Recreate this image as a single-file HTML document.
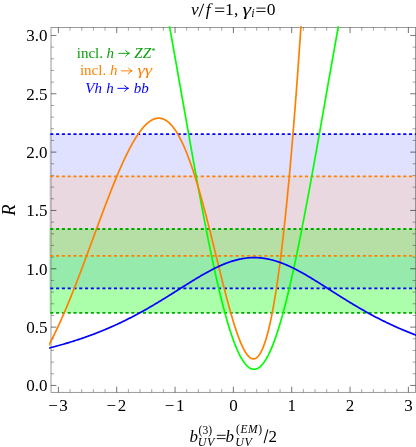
<!DOCTYPE html>
<html><head><meta charset="utf-8"><title>plot</title>
<style>
html,body{margin:0;padding:0;background:#fff;}
body{width:416px;height:447px;overflow:hidden;}
svg{display:block;will-change:transform;}
text{font-family:"Liberation Serif",serif;}
</style></head><body>
<svg width="416" height="447" viewBox="0 0 416 447">
<rect width="416" height="447" fill="#fff"/>
<clipPath id="c"><rect x="49.1" y="26.2" width="367.5" height="367"/></clipPath>
<g clip-path="url(#c)">
<rect x="49.4" y="134.2" width="367" height="154.10" fill="#0000ff" fill-opacity="0.12"/>
<rect x="49.4" y="229.0" width="367" height="83.80" fill="#00ff00" fill-opacity="0.33"/>
<rect x="49.4" y="176.3" width="367" height="79.50" fill="#ffc896" fill-opacity="0.3"/>
</g>
<rect x="51.0" y="27.45" width="364.60" height="364.90" fill="none" stroke="#808080" stroke-width="0.8"/>
<path d="M58.40,392.35v-5.6M58.40,27.45v5.6M116.73,392.35v-5.6M116.73,27.45v5.6M175.06,392.35v-5.6M175.06,27.45v5.6M233.39,392.35v-5.6M233.39,27.45v5.6M291.72,392.35v-5.6M291.72,27.45v5.6M350.05,392.35v-5.6M350.05,27.45v5.6M408.38,392.35v-5.6M408.38,27.45v5.6M51.00,385.45h5.4M415.60,385.45h-5.4M51.00,327.12h5.4M415.60,327.12h-5.4M51.00,268.78h5.4M415.60,268.78h-5.4M51.00,210.44h5.4M415.60,210.44h-5.4M51.00,152.11h5.4M415.60,152.11h-5.4M51.00,93.77h5.4M415.60,93.77h-5.4M51.00,35.44h5.4M415.60,35.44h-5.4" stroke="#000" stroke-width="0.55" fill="none"/>
<path d="M70.07,392.35v-3.3M70.07,27.45v3.3M81.73,392.35v-3.3M81.73,27.45v3.3M93.40,392.35v-3.3M93.40,27.45v3.3M105.06,392.35v-3.3M105.06,27.45v3.3M128.40,392.35v-3.3M128.40,27.45v3.3M140.06,392.35v-3.3M140.06,27.45v3.3M151.73,392.35v-3.3M151.73,27.45v3.3M163.39,392.35v-3.3M163.39,27.45v3.3M186.73,392.35v-3.3M186.73,27.45v3.3M198.39,392.35v-3.3M198.39,27.45v3.3M210.06,392.35v-3.3M210.06,27.45v3.3M221.72,392.35v-3.3M221.72,27.45v3.3M245.06,392.35v-3.3M245.06,27.45v3.3M256.72,392.35v-3.3M256.72,27.45v3.3M268.39,392.35v-3.3M268.39,27.45v3.3M280.05,392.35v-3.3M280.05,27.45v3.3M303.39,392.35v-3.3M303.39,27.45v3.3M315.05,392.35v-3.3M315.05,27.45v3.3M326.72,392.35v-3.3M326.72,27.45v3.3M338.38,392.35v-3.3M338.38,27.45v3.3M361.72,392.35v-3.3M361.72,27.45v3.3M373.38,392.35v-3.3M373.38,27.45v3.3M385.05,392.35v-3.3M385.05,27.45v3.3M396.71,392.35v-3.3M396.71,27.45v3.3M51.00,373.78h3.1M415.60,373.78h-3.1M51.00,362.12h3.1M415.60,362.12h-3.1M51.00,350.45h3.1M415.60,350.45h-3.1M51.00,338.78h3.1M415.60,338.78h-3.1M51.00,315.45h3.1M415.60,315.45h-3.1M51.00,303.78h3.1M415.60,303.78h-3.1M51.00,292.11h3.1M415.60,292.11h-3.1M51.00,280.45h3.1M415.60,280.45h-3.1M51.00,257.11h3.1M415.60,257.11h-3.1M51.00,245.45h3.1M415.60,245.45h-3.1M51.00,233.78h3.1M415.60,233.78h-3.1M51.00,222.11h3.1M415.60,222.11h-3.1M51.00,198.78h3.1M415.60,198.78h-3.1M51.00,187.11h3.1M415.60,187.11h-3.1M51.00,175.44h3.1M415.60,175.44h-3.1M51.00,163.78h3.1M415.60,163.78h-3.1M51.00,140.44h3.1M415.60,140.44h-3.1M51.00,128.78h3.1M415.60,128.78h-3.1M51.00,117.11h3.1M415.60,117.11h-3.1M51.00,105.44h3.1M415.60,105.44h-3.1M51.00,82.11h3.1M415.60,82.11h-3.1M51.00,70.44h3.1M415.60,70.44h-3.1M51.00,58.77h3.1M415.60,58.77h-3.1M51.00,47.11h3.1M415.60,47.11h-3.1" stroke="#000" stroke-width="0.35" fill="none"/>
<g fill="none" stroke-width="1.8" stroke-dasharray="3.1 2.686" clip-path="url(#c)">
<path d="M50.3,134.2H417M50.3,288.3H417" stroke="#0000ff"/>
<path d="M50.3,176.3H417M50.3,255.8H417" stroke="#ff8000"/>
<path d="M50.3,229.0H417M50.3,312.8H417" stroke="#00aa00"/>
</g>
<g fill="none" stroke-width="1.7" stroke-linejoin="round" clip-path="url(#c)">
<path d="M162.52,-11.97 L162.83,-10.31 L163.14,-8.65 L163.44,-6.98 L163.75,-5.31 L164.06,-3.64 L164.37,-1.96 L164.67,-0.29 L164.98,1.39 L165.29,3.07 L165.60,4.75 L165.90,6.44 L166.21,8.12 L166.52,9.81 L166.83,11.50 L167.13,13.19 L167.44,14.88 L167.75,16.58 L168.06,18.28 L168.36,19.98 L168.67,21.68 L168.98,23.38 L169.28,25.08 L169.59,26.79 L169.90,28.50 L170.21,30.21 L170.51,31.92 L170.82,33.63 L171.13,35.34 L171.44,37.06 L171.74,38.77 L172.05,40.49 L172.36,42.21 L172.67,43.93 L172.97,45.65 L173.28,47.38 L173.59,49.10 L173.89,50.83 L174.20,52.55 L174.51,54.28 L174.82,56.01 L175.12,57.74 L175.43,59.47 L175.74,61.20 L176.05,62.93 L176.35,64.67 L176.66,66.40 L176.97,68.14 L177.28,69.87 L177.58,71.61 L177.89,73.35 L178.20,75.09 L178.50,76.82 L178.81,78.56 L179.12,80.30 L179.43,82.04 L179.73,83.78 L180.04,85.52 L180.35,87.27 L180.66,89.01 L180.96,90.75 L181.27,92.49 L181.58,94.23 L181.89,95.98 L182.19,97.72 L182.50,99.46 L182.81,101.20 L183.11,102.94 L183.42,104.69 L183.73,106.43 L184.04,108.17 L184.34,109.91 L184.65,111.65 L184.96,113.39 L185.27,115.13 L185.57,116.87 L185.88,118.61 L186.19,120.35 L186.50,122.09 L186.80,123.82 L187.11,125.56 L187.42,127.30 L187.72,129.03 L188.03,130.77 L188.34,132.50 L188.65,134.23 L188.95,135.96 L189.26,137.69 L189.57,139.42 L189.88,141.15 L190.18,142.87 L190.49,144.60 L190.80,146.32 L191.11,148.04 L191.41,149.76 L191.72,151.48 L192.03,153.19 L192.33,154.91 L192.64,156.62 L192.95,158.33 L193.26,160.04 L193.56,161.75 L193.87,163.46 L194.18,165.16 L194.49,166.86 L194.79,168.56 L195.10,170.26 L195.41,171.95 L195.72,173.64 L196.02,175.33 L196.33,177.02 L196.64,178.70 L196.94,180.38 L197.25,182.06 L197.56,183.74 L197.87,185.41 L198.17,187.08 L198.48,188.75 L198.79,190.41 L199.10,192.07 L199.40,193.73 L199.71,195.38 L200.02,197.03 L200.33,198.68 L200.63,200.33 L200.94,201.97 L201.25,203.60 L201.56,205.24 L201.86,206.87 L202.17,208.49 L202.48,210.11 L202.78,211.73 L203.09,213.34 L203.40,214.95 L203.71,216.56 L204.01,218.16 L204.32,219.76 L204.63,221.35 L204.94,222.94 L205.24,224.52 L205.55,226.10 L205.86,227.67 L206.17,229.24 L206.47,230.80 L206.78,232.36 L207.09,233.92 L207.39,235.47 L207.70,237.01 L208.01,238.55 L208.32,240.08 L208.62,241.61 L208.93,243.13 L209.24,244.65 L209.55,246.16 L209.85,247.67 L210.16,249.17 L210.47,250.66 L210.78,252.15 L211.08,253.63 L211.39,255.11 L211.70,256.57 L212.00,258.04 L212.31,259.50 L212.62,260.95 L212.93,262.39 L213.23,263.83 L213.54,265.26 L213.85,266.69 L214.16,268.10 L214.46,269.51 L214.77,270.92 L215.08,272.32 L215.39,273.71 L215.69,275.09 L216.00,276.46 L216.31,277.83 L216.61,279.19 L216.92,280.55 L217.23,281.89 L217.54,283.23 L217.84,284.56 L218.15,285.89 L218.46,287.20 L218.77,288.51 L219.07,289.81 L219.38,291.10 L219.69,292.38 L220.00,293.66 L220.30,294.92 L220.61,296.18 L220.92,297.43 L221.22,298.67 L221.53,299.91 L221.84,301.13 L222.15,302.35 L222.45,303.55 L222.76,304.75 L223.07,305.94 L223.38,307.12 L223.68,308.29 L223.99,309.45 L224.30,310.60 L224.61,311.75 L224.91,312.88 L225.22,314.01 L225.53,315.12 L225.83,316.23 L226.14,317.32 L226.45,318.41 L226.76,319.48 L227.06,320.55 L227.37,321.61 L227.68,322.65 L227.99,323.69 L228.29,324.71 L228.60,325.73 L228.91,326.74 L229.22,327.73 L229.52,328.72 L229.83,329.69 L230.14,330.65 L230.44,331.61 L230.75,332.55 L231.06,333.48 L231.37,334.40 L231.67,335.31 L231.98,336.21 L232.29,337.10 L232.60,337.98 L232.90,338.85 L233.21,339.70 L233.52,340.55 L233.83,341.38 L234.13,342.20 L234.44,343.01 L234.75,343.81 L235.06,344.60 L235.36,345.37 L235.67,346.14 L235.98,346.89 L236.28,347.63 L236.59,348.36 L236.90,349.08 L237.21,349.78 L237.51,350.48 L237.82,351.16 L238.13,351.83 L238.44,352.49 L238.74,353.13 L239.05,353.77 L239.36,354.39 L239.67,355.00 L239.97,355.60 L240.28,356.18 L240.59,356.75 L240.89,357.31 L241.20,357.86 L241.51,358.40 L241.82,358.92 L242.12,359.43 L242.43,359.93 L242.74,360.41 L243.05,360.89 L243.35,361.35 L243.66,361.79 L243.97,362.23 L244.28,362.65 L244.58,363.06 L244.89,363.46 L245.20,363.84 L245.50,364.21 L245.81,364.57 L246.12,364.91 L246.43,365.24 L246.73,365.56 L247.04,365.87 L247.35,366.16 L247.66,366.44 L247.96,366.71 L248.27,366.96 L248.58,367.20 L248.89,367.43 L249.19,367.64 L249.50,367.84 L249.81,368.03 L250.11,368.20 L250.42,368.37 L250.73,368.51 L251.04,368.65 L251.34,368.77 L251.65,368.88 L251.96,368.97 L252.27,369.06 L252.57,369.12 L252.88,369.18 L253.19,369.22 L253.50,369.25 L253.80,369.27 L254.11,369.27 L254.42,369.26 L254.72,369.23 L255.03,369.20 L255.34,369.14 L255.65,369.08 L255.95,369.00 L256.26,368.91 L256.57,368.81 L256.88,368.69 L257.18,368.56 L257.49,368.42 L257.80,368.26 L258.11,368.09 L258.41,367.91 L258.72,367.71 L259.03,367.50 L259.33,367.28 L259.64,367.04 L259.95,366.79 L260.26,366.53 L260.56,366.26 L260.87,365.97 L261.18,365.67 L261.49,365.35 L261.79,365.03 L262.10,364.69 L262.41,364.33 L262.72,363.97 L263.02,363.59 L263.33,363.20 L263.64,362.79 L263.94,362.37 L264.25,361.94 L264.56,361.50 L264.87,361.04 L265.17,360.58 L265.48,360.10 L265.79,359.60 L266.10,359.09 L266.40,358.58 L266.71,358.04 L267.02,357.50 L267.33,356.94 L267.63,356.38 L267.94,355.79 L268.25,355.20 L268.56,354.60 L268.86,353.98 L269.17,353.35 L269.48,352.70 L269.78,352.05 L270.09,351.38 L270.40,350.71 L270.71,350.01 L271.01,349.31 L271.32,348.60 L271.63,347.87 L271.94,347.13 L272.24,346.38 L272.55,345.62 L272.86,344.85 L273.17,344.07 L273.47,343.27 L273.78,342.46 L274.09,341.64 L274.39,340.81 L274.70,339.97 L275.01,339.12 L275.32,338.26 L275.62,337.38 L275.93,336.49 L276.24,335.60 L276.55,334.69 L276.85,333.77 L277.16,332.84 L277.47,331.90 L277.78,330.95 L278.08,329.99 L278.39,329.02 L278.70,328.03 L279.00,327.04 L279.31,326.04 L279.62,325.02 L279.93,324.00 L280.23,322.96 L280.54,321.92 L280.85,320.86 L281.16,319.80 L281.46,318.73 L281.77,317.64 L282.08,316.55 L282.39,315.44 L282.69,314.33 L283.00,313.21 L283.31,312.07 L283.61,310.93 L283.92,309.78 L284.23,308.62 L284.54,307.45 L284.84,306.27 L285.15,305.08 L285.46,303.89 L285.77,302.68 L286.07,301.47 L286.38,300.24 L286.69,299.01 L287.00,297.77 L287.30,296.52 L287.61,295.26 L287.92,293.99 L288.22,292.72 L288.53,291.44 L288.84,290.15 L289.15,288.85 L289.45,287.54 L289.76,286.22 L290.07,284.90 L290.38,283.57 L290.68,282.23 L290.99,280.88 L291.30,279.53 L291.61,278.17 L291.91,276.80 L292.22,275.42 L292.53,274.04 L292.83,272.65 L293.14,271.25 L293.45,269.85 L293.76,268.43 L294.06,267.02 L294.37,265.59 L294.68,264.16 L294.99,262.72 L295.29,261.27 L295.60,259.82 L295.91,258.36 L296.22,256.90 L296.52,255.43 L296.83,253.95 L297.14,252.46 L297.44,250.98 L297.75,249.48 L298.06,247.98 L298.37,246.47 L298.67,244.96 L298.98,243.44 L299.29,241.91 L299.60,240.38 L299.90,238.85 L300.21,237.31 L300.52,235.76 L300.83,234.21 L301.13,232.65 L301.44,231.09 L301.75,229.53 L302.06,227.96 L302.36,226.38 L302.67,224.80 L302.98,223.21 L303.28,221.62 L303.59,220.03 L303.90,218.43 L304.21,216.82 L304.51,215.22 L304.82,213.60 L305.13,211.99 L305.44,210.37 L305.74,208.74 L306.05,207.11 L306.36,205.48 L306.67,203.84 L306.97,202.20 L307.28,200.56 L307.59,198.91 L307.89,197.26 L308.20,195.61 L308.51,193.95 L308.82,192.29 L309.12,190.62 L309.43,188.96 L309.74,187.29 L310.05,185.61 L310.35,183.94 L310.66,182.26 L310.97,180.57 L311.28,178.89 L311.58,177.20 L311.89,175.51 L312.20,173.82 L312.50,172.12 L312.81,170.42 L313.12,168.72 L313.43,167.02 L313.73,165.31 L314.04,163.60 L314.35,161.89 L314.66,160.18 L314.96,158.47 L315.27,156.75 L315.58,155.04 L315.89,153.32 L316.19,151.59 L316.50,149.87 L316.81,148.15 L317.11,146.42 L317.42,144.69 L317.73,142.96 L318.04,141.23 L318.34,139.50 L318.65,137.77 L318.96,136.03 L319.27,134.30 L319.57,132.56 L319.88,130.82 L320.19,129.08 L320.50,127.34 L320.80,125.60 L321.11,123.86 L321.42,122.12 L321.72,120.38 L322.03,118.63 L322.34,116.89 L322.65,115.14 L322.95,113.40 L323.26,111.65 L323.57,109.91 L323.88,108.16 L324.18,106.41 L324.49,104.67 L324.80,102.92 L325.11,101.17 L325.41,99.42 L325.72,97.67 L326.03,95.93 L326.33,94.18 L326.64,92.43 L326.95,90.68 L327.26,88.94 L327.56,87.19 L327.87,85.44 L328.18,83.69 L328.49,81.95 L328.79,80.20 L329.10,78.46 L329.41,76.71 L329.72,74.97 L330.02,73.22 L330.33,71.48 L330.64,69.74 L330.94,68.00 L331.25,66.25 L331.56,64.51 L331.87,62.77 L332.17,61.04 L332.48,59.30 L332.79,57.56 L333.10,55.83 L333.40,54.09 L333.71,52.36 L334.02,50.62 L334.33,48.89 L334.63,47.16 L334.94,45.43 L335.25,43.70 L335.56,41.98 L335.86,40.25 L336.17,38.53 L336.48,36.81 L336.78,35.09 L337.09,33.37 L337.40,31.65 L337.71,29.93 L338.01,28.22 L338.32,26.50 L338.63,24.79 L338.94,23.08 L339.24,21.37 L339.55,19.66 L339.86,17.96 L340.17,16.26 L340.47,14.55 L340.78,12.85 L341.09,11.16 L341.39,9.46 L341.70,7.77 L342.01,6.07 L342.32,4.38 L342.62,2.70 L342.93,1.01 L343.24,-0.67 L343.55,-2.36 L343.85,-4.04 L344.16,-5.71 L344.47,-7.39 L344.78,-9.06 L345.08,-10.73 L345.39,-12.40" stroke="#00ff00"/>
<path d="M48.50,345.67 L48.81,345.10 L49.11,344.53 L49.42,343.96 L49.73,343.38 L50.04,342.80 L50.34,342.21 L50.65,341.63 L50.96,341.04 L51.27,340.44 L51.57,339.85 L51.88,339.25 L52.19,338.64 L52.50,338.04 L52.80,337.43 L53.11,336.82 L53.42,336.20 L53.72,335.58 L54.03,334.96 L54.34,334.34 L54.65,333.71 L54.95,333.08 L55.26,332.44 L55.57,331.81 L55.88,331.17 L56.18,330.53 L56.49,329.88 L56.80,329.23 L57.11,328.58 L57.41,327.93 L57.72,327.27 L58.03,326.61 L58.33,325.95 L58.64,325.28 L58.95,324.61 L59.26,323.94 L59.56,323.27 L59.87,322.59 L60.18,321.91 L60.49,321.23 L60.79,320.55 L61.10,319.86 L61.41,319.17 L61.72,318.48 L62.02,317.78 L62.33,317.09 L62.64,316.39 L62.94,315.69 L63.25,314.98 L63.56,314.27 L63.87,313.56 L64.17,312.85 L64.48,312.14 L64.79,311.42 L65.10,310.70 L65.40,309.98 L65.71,309.25 L66.02,308.53 L66.33,307.80 L66.63,307.07 L66.94,306.34 L67.25,305.60 L67.56,304.86 L67.86,304.12 L68.17,303.38 L68.48,302.64 L68.78,301.89 L69.09,301.14 L69.40,300.39 L69.71,299.64 L70.01,298.89 L70.32,298.13 L70.63,297.37 L70.94,296.61 L71.24,295.85 L71.55,295.09 L71.86,294.32 L72.17,293.55 L72.47,292.78 L72.78,292.01 L73.09,291.24 L73.39,290.46 L73.70,289.69 L74.01,288.91 L74.32,288.13 L74.62,287.35 L74.93,286.56 L75.24,285.78 L75.55,284.99 L75.85,284.20 L76.16,283.41 L76.47,282.62 L76.78,281.83 L77.08,281.03 L77.39,280.24 L77.70,279.44 L78.00,278.64 L78.31,277.84 L78.62,277.04 L78.93,276.24 L79.23,275.44 L79.54,274.63 L79.85,273.82 L80.16,273.02 L80.46,272.21 L80.77,271.40 L81.08,270.59 L81.39,269.77 L81.69,268.96 L82.00,268.15 L82.31,267.33 L82.61,266.51 L82.92,265.70 L83.23,264.88 L83.54,264.06 L83.84,263.24 L84.15,262.42 L84.46,261.59 L84.77,260.77 L85.07,259.95 L85.38,259.12 L85.69,258.30 L86.00,257.47 L86.30,256.65 L86.61,255.82 L86.92,254.99 L87.22,254.16 L87.53,253.33 L87.84,252.50 L88.15,251.67 L88.45,250.84 L88.76,250.01 L89.07,249.18 L89.38,248.35 L89.68,247.52 L89.99,246.69 L90.30,245.85 L90.61,245.02 L90.91,244.19 L91.22,243.35 L91.53,242.52 L91.83,241.69 L92.14,240.85 L92.45,240.02 L92.76,239.18 L93.06,238.35 L93.37,237.52 L93.68,236.68 L93.99,235.85 L94.29,235.01 L94.60,234.18 L94.91,233.35 L95.22,232.51 L95.52,231.68 L95.83,230.85 L96.14,230.01 L96.44,229.18 L96.75,228.35 L97.06,227.52 L97.37,226.69 L97.67,225.85 L97.98,225.02 L98.29,224.19 L98.60,223.36 L98.90,222.54 L99.21,221.71 L99.52,220.88 L99.83,220.05 L100.13,219.23 L100.44,218.40 L100.75,217.58 L101.06,216.75 L101.36,215.93 L101.67,215.11 L101.98,214.29 L102.28,213.47 L102.59,212.65 L102.90,211.83 L103.21,211.01 L103.51,210.19 L103.82,209.38 L104.13,208.57 L104.44,207.75 L104.74,206.94 L105.05,206.13 L105.36,205.32 L105.67,204.51 L105.97,203.71 L106.28,202.90 L106.59,202.10 L106.89,201.30 L107.20,200.49 L107.51,199.70 L107.82,198.90 L108.12,198.10 L108.43,197.31 L108.74,196.51 L109.05,195.72 L109.35,194.93 L109.66,194.15 L109.97,193.36 L110.28,192.58 L110.58,191.80 L110.89,191.02 L111.20,190.24 L111.50,189.46 L111.81,188.69 L112.12,187.92 L112.43,187.15 L112.73,186.38 L113.04,185.61 L113.35,184.85 L113.66,184.09 L113.96,183.33 L114.27,182.57 L114.58,181.82 L114.89,181.07 L115.19,180.32 L115.50,179.57 L115.81,178.83 L116.11,178.09 L116.42,177.35 L116.73,176.61 L117.04,175.88 L117.34,175.15 L117.65,174.42 L117.96,173.69 L118.27,172.97 L118.57,172.25 L118.88,171.53 L119.19,170.82 L119.50,170.11 L119.80,169.40 L120.11,168.70 L120.42,168.00 L120.72,167.30 L121.03,166.60 L121.34,165.91 L121.65,165.22 L121.95,164.54 L122.26,163.86 L122.57,163.18 L122.88,162.50 L123.18,161.83 L123.49,161.16 L123.80,160.50 L124.11,159.84 L124.41,159.18 L124.72,158.52 L125.03,157.87 L125.33,157.23 L125.64,156.59 L125.95,155.95 L126.26,155.31 L126.56,154.68 L126.87,154.05 L127.18,153.43 L127.49,152.81 L127.79,152.20 L128.10,151.59 L128.41,150.98 L128.72,150.38 L129.02,149.78 L129.33,149.19 L129.64,148.60 L129.94,148.01 L130.25,147.43 L130.56,146.85 L130.87,146.28 L131.17,145.71 L131.48,145.15 L131.79,144.59 L132.10,144.04 L132.40,143.49 L132.71,142.95 L133.02,142.41 L133.33,141.87 L133.63,141.34 L133.94,140.82 L134.25,140.30 L134.56,139.78 L134.86,139.27 L135.17,138.77 L135.48,138.27 L135.78,137.77 L136.09,137.29 L136.40,136.80 L136.71,136.32 L137.01,135.85 L137.32,135.38 L137.63,134.92 L137.94,134.46 L138.24,134.01 L138.55,133.56 L138.86,133.12 L139.17,132.68 L139.47,132.25 L139.78,131.83 L140.09,131.41 L140.39,131.00 L140.70,130.59 L141.01,130.19 L141.32,129.80 L141.62,129.41 L141.93,129.02 L142.24,128.64 L142.55,128.27 L142.85,127.91 L143.16,127.55 L143.47,127.20 L143.78,126.85 L144.08,126.51 L144.39,126.17 L144.70,125.84 L145.00,125.52 L145.31,125.21 L145.62,124.90 L145.93,124.59 L146.23,124.30 L146.54,124.01 L146.85,123.72 L147.16,123.45 L147.46,123.18 L147.77,122.91 L148.08,122.66 L148.39,122.41 L148.69,122.16 L149.00,121.93 L149.31,121.70 L149.61,121.48 L149.92,121.26 L150.23,121.05 L150.54,120.85 L150.84,120.66 L151.15,120.47 L151.46,120.29 L151.77,120.11 L152.07,119.95 L152.38,119.79 L152.69,119.64 L153.00,119.49 L153.30,119.35 L153.61,119.22 L153.92,119.10 L154.22,118.99 L154.53,118.88 L154.84,118.78 L155.15,118.68 L155.45,118.60 L155.76,118.52 L156.07,118.45 L156.38,118.39 L156.68,118.33 L156.99,118.29 L157.30,118.25 L157.61,118.22 L157.91,118.19 L158.22,118.17 L158.53,118.17 L158.83,118.17 L159.14,118.17 L159.45,118.19 L159.76,118.21 L160.06,118.24 L160.37,118.28 L160.68,118.33 L160.99,118.38 L161.29,118.45 L161.60,118.52 L161.91,118.60 L162.22,118.69 L162.52,118.78 L162.83,118.88 L163.14,119.00 L163.44,119.12 L163.75,119.25 L164.06,119.38 L164.37,119.53 L164.67,119.68 L164.98,119.84 L165.29,120.01 L165.60,120.19 L165.90,120.38 L166.21,120.57 L166.52,120.78 L166.83,120.99 L167.13,121.21 L167.44,121.44 L167.75,121.68 L168.06,121.92 L168.36,122.18 L168.67,122.44 L168.98,122.71 L169.28,122.99 L169.59,123.28 L169.90,123.58 L170.21,123.89 L170.51,124.20 L170.82,124.52 L171.13,124.86 L171.44,125.20 L171.74,125.55 L172.05,125.90 L172.36,126.27 L172.67,126.65 L172.97,127.03 L173.28,127.42 L173.59,127.82 L173.89,128.23 L174.20,128.65 L174.51,129.08 L174.82,129.52 L175.12,129.96 L175.43,130.42 L175.74,130.88 L176.05,131.35 L176.35,131.83 L176.66,132.32 L176.97,132.81 L177.28,133.32 L177.58,133.83 L177.89,134.36 L178.20,134.89 L178.50,135.43 L178.81,135.98 L179.12,136.54 L179.43,137.10 L179.73,137.68 L180.04,138.26 L180.35,138.85 L180.66,139.46 L180.96,140.07 L181.27,140.68 L181.58,141.31 L181.89,141.95 L182.19,142.59 L182.50,143.24 L182.81,143.90 L183.11,144.57 L183.42,145.25 L183.73,145.94 L184.04,146.63 L184.34,147.33 L184.65,148.04 L184.96,148.76 L185.27,149.49 L185.57,150.23 L185.88,150.97 L186.19,151.73 L186.50,152.49 L186.80,153.26 L187.11,154.03 L187.42,154.82 L187.72,155.61 L188.03,156.41 L188.34,157.22 L188.65,158.04 L188.95,158.87 L189.26,159.70 L189.57,160.54 L189.88,161.39 L190.18,162.25 L190.49,163.11 L190.80,163.99 L191.11,164.87 L191.41,165.75 L191.72,166.65 L192.03,167.55 L192.33,168.46 L192.64,169.38 L192.95,170.31 L193.26,171.24 L193.56,172.18 L193.87,173.12 L194.18,174.08 L194.49,175.04 L194.79,176.01 L195.10,176.98 L195.41,177.96 L195.72,178.95 L196.02,179.95 L196.33,180.95 L196.64,181.96 L196.94,182.98 L197.25,184.00 L197.56,185.03 L197.87,186.06 L198.17,187.11 L198.48,188.15 L198.79,189.21 L199.10,190.27 L199.40,191.33 L199.71,192.41 L200.02,193.48 L200.33,194.57 L200.63,195.66 L200.94,196.75 L201.25,197.86 L201.56,198.96 L201.86,200.07 L202.17,201.19 L202.48,202.31 L202.78,203.44 L203.09,204.57 L203.40,205.71 L203.71,206.86 L204.01,208.00 L204.32,209.16 L204.63,210.31 L204.94,211.47 L205.24,212.64 L205.55,213.81 L205.86,214.98 L206.17,216.16 L206.47,217.35 L206.78,218.53 L207.09,219.72 L207.39,220.92 L207.70,222.11 L208.01,223.32 L208.32,224.52 L208.62,225.73 L208.93,226.94 L209.24,228.15 L209.55,229.37 L209.85,230.59 L210.16,231.81 L210.47,233.04 L210.78,234.27 L211.08,235.50 L211.39,236.73 L211.70,237.96 L212.00,239.20 L212.31,240.44 L212.62,241.68 L212.93,242.92 L213.23,244.16 L213.54,245.41 L213.85,246.65 L214.16,247.90 L214.46,249.15 L214.77,250.40 L215.08,251.65 L215.39,252.90 L215.69,254.15 L216.00,255.40 L216.31,256.65 L216.61,257.90 L216.92,259.15 L217.23,260.40 L217.54,261.65 L217.84,262.90 L218.15,264.15 L218.46,265.40 L218.77,266.64 L219.07,267.89 L219.38,269.14 L219.69,270.38 L220.00,271.62 L220.30,272.86 L220.61,274.10 L220.92,275.33 L221.22,276.57 L221.53,277.80 L221.84,279.03 L222.15,280.25 L222.45,281.48 L222.76,282.70 L223.07,283.91 L223.38,285.13 L223.68,286.34 L223.99,287.54 L224.30,288.74 L224.61,289.94 L224.91,291.14 L225.22,292.33 L225.53,293.51 L225.83,294.69 L226.14,295.87 L226.45,297.04 L226.76,298.21 L227.06,299.37 L227.37,300.52 L227.68,301.67 L227.99,302.81 L228.29,303.95 L228.60,305.08 L228.91,306.21 L229.22,307.32 L229.52,308.43 L229.83,309.54 L230.14,310.64 L230.44,311.73 L230.75,312.81 L231.06,313.88 L231.37,314.95 L231.67,316.01 L231.98,317.06 L232.29,318.10 L232.60,319.13 L232.90,320.16 L233.21,321.17 L233.52,322.18 L233.83,323.18 L234.13,324.16 L234.44,325.14 L234.75,326.11 L235.06,327.07 L235.36,328.02 L235.67,328.95 L235.98,329.88 L236.28,330.79 L236.59,331.70 L236.90,332.59 L237.21,333.47 L237.51,334.34 L237.82,335.20 L238.13,336.05 L238.44,336.88 L238.74,337.71 L239.05,338.52 L239.36,339.31 L239.67,340.10 L239.97,340.87 L240.28,341.62 L240.59,342.37 L240.89,343.10 L241.20,343.81 L241.51,344.52 L241.82,345.20 L242.12,345.88 L242.43,346.54 L242.74,347.18 L243.05,347.81 L243.35,348.42 L243.66,349.02 L243.97,349.60 L244.28,350.17 L244.58,350.72 L244.89,351.25 L245.20,351.77 L245.50,352.27 L245.81,352.76 L246.12,353.23 L246.43,353.68 L246.73,354.11 L247.04,354.53 L247.35,354.92 L247.66,355.30 L247.96,355.67 L248.27,356.01 L248.58,356.34 L248.89,356.64 L249.19,356.93 L249.50,357.20 L249.81,357.45 L250.11,357.68 L250.42,357.89 L250.73,358.08 L251.04,358.25 L251.34,358.41 L251.65,358.54 L251.96,358.65 L252.27,358.74 L252.57,358.81 L252.88,358.86 L253.19,358.88 L253.50,358.89 L253.80,358.87 L254.11,358.84 L254.42,358.78 L254.72,358.70 L255.03,358.59 L255.34,358.47 L255.65,358.32 L255.95,358.15 L256.26,357.95 L256.57,357.74 L256.88,357.50 L257.18,357.23 L257.49,356.95 L257.80,356.64 L258.11,356.30 L258.41,355.94 L258.72,355.56 L259.03,355.16 L259.33,354.73 L259.64,354.27 L259.95,353.79 L260.26,353.28 L260.56,352.75 L260.87,352.20 L261.18,351.62 L261.49,351.01 L261.79,350.38 L262.10,349.72 L262.41,349.04 L262.72,348.33 L263.02,347.59 L263.33,346.83 L263.64,346.04 L263.94,345.23 L264.25,344.38 L264.56,343.52 L264.87,342.62 L265.17,341.70 L265.48,340.75 L265.79,339.77 L266.10,338.76 L266.40,337.73 L266.71,336.67 L267.02,335.58 L267.33,334.46 L267.63,333.32 L267.94,332.15 L268.25,330.94 L268.56,329.71 L268.86,328.46 L269.17,327.17 L269.48,325.85 L269.78,324.51 L270.09,323.13 L270.40,321.73 L270.71,320.30 L271.01,318.84 L271.32,317.34 L271.63,315.82 L271.94,314.27 L272.24,312.69 L272.55,311.08 L272.86,309.44 L273.17,307.77 L273.47,306.07 L273.78,304.34 L274.09,302.58 L274.39,300.79 L274.70,298.97 L275.01,297.12 L275.32,295.24 L275.62,293.33 L275.93,291.38 L276.24,289.41 L276.55,287.40 L276.85,285.37 L277.16,283.30 L277.47,281.20 L277.78,279.07 L278.08,276.91 L278.39,274.72 L278.70,272.50 L279.00,270.24 L279.31,267.96 L279.62,265.64 L279.93,263.29 L280.23,260.91 L280.54,258.50 L280.85,256.05 L281.16,253.58 L281.46,251.07 L281.77,248.53 L282.08,245.96 L282.39,243.36 L282.69,240.72 L283.00,238.05 L283.31,235.36 L283.61,232.62 L283.92,229.86 L284.23,227.07 L284.54,224.24 L284.84,221.38 L285.15,218.49 L285.46,215.56 L285.77,212.61 L286.07,209.62 L286.38,206.60 L286.69,203.55 L287.00,200.46 L287.30,197.34 L287.61,194.19 L287.92,191.01 L288.22,187.80 L288.53,184.55 L288.84,181.27 L289.15,177.96 L289.45,174.62 L289.76,171.24 L290.07,167.83 L290.38,164.39 L290.68,160.92 L290.99,157.41 L291.30,153.88 L291.61,150.31 L291.91,146.71 L292.22,143.07 L292.53,139.40 L292.83,135.70 L293.14,131.97 L293.45,128.21 L293.76,124.41 L294.06,120.59 L294.37,116.73 L294.68,112.83 L294.99,108.91 L295.29,104.95 L295.60,100.97 L295.91,96.95 L296.22,92.89 L296.52,88.81 L296.83,84.69 L297.14,80.55 L297.44,76.37 L297.75,72.15 L298.06,67.91 L298.37,63.63 L298.67,59.33 L298.98,54.99 L299.29,50.62 L299.60,46.22 L299.90,41.78 L300.21,37.32 L300.52,32.82 L300.83,28.30 L301.13,23.74 L301.44,19.15 L301.75,14.53 L302.06,9.87 L302.36,5.19 L302.67,0.48 L302.98,-4.27 L303.28,-9.05" stroke="#ff8000"/>
<path d="M48.50,348.22 L49.42,347.99 L50.35,347.75 L51.27,347.51 L52.19,347.27 L53.12,347.03 L54.04,346.79 L54.96,346.54 L55.89,346.29 L56.81,346.04 L57.74,345.79 L58.66,345.53 L59.58,345.27 L60.51,345.01 L61.43,344.75 L62.35,344.49 L63.28,344.22 L64.20,343.96 L65.12,343.68 L66.05,343.41 L66.97,343.14 L67.89,342.86 L68.82,342.58 L69.74,342.30 L70.67,342.01 L71.59,341.73 L72.51,341.44 L73.44,341.15 L74.36,340.85 L75.28,340.56 L76.21,340.26 L77.13,339.96 L78.05,339.65 L78.98,339.35 L79.90,339.04 L80.82,338.73 L81.75,338.41 L82.67,338.10 L83.60,337.78 L84.52,337.46 L85.44,337.13 L86.37,336.80 L87.29,336.47 L88.21,336.14 L89.14,335.81 L90.06,335.47 L90.98,335.13 L91.91,334.78 L92.83,334.44 L93.75,334.09 L94.68,333.74 L95.60,333.38 L96.53,333.03 L97.45,332.66 L98.37,332.30 L99.30,331.94 L100.22,331.57 L101.14,331.19 L102.07,330.82 L102.99,330.44 L103.91,330.06 L104.84,329.68 L105.76,329.29 L106.68,328.90 L107.61,328.50 L108.53,328.11 L109.45,327.71 L110.38,327.31 L111.30,326.90 L112.23,326.49 L113.15,326.08 L114.07,325.67 L115.00,325.25 L115.92,324.83 L116.84,324.40 L117.77,323.98 L118.69,323.55 L119.61,323.11 L120.54,322.68 L121.46,322.24 L122.38,321.79 L123.31,321.35 L124.23,320.90 L125.16,320.44 L126.08,319.99 L127.00,319.53 L127.93,319.07 L128.85,318.60 L129.77,318.13 L130.70,317.66 L131.62,317.19 L132.54,316.71 L133.47,316.23 L134.39,315.74 L135.31,315.26 L136.24,314.77 L137.16,314.27 L138.09,313.78 L139.01,313.28 L139.93,312.77 L140.86,312.27 L141.78,311.76 L142.70,311.25 L143.63,310.73 L144.55,310.22 L145.47,309.70 L146.40,309.17 L147.32,308.65 L148.24,308.12 L149.17,307.59 L150.09,307.06 L151.02,306.52 L151.94,305.98 L152.86,305.44 L153.79,304.89 L154.71,304.35 L155.63,303.80 L156.56,303.25 L157.48,302.69 L158.40,302.14 L159.33,301.58 L160.25,301.02 L161.17,300.46 L162.10,299.89 L163.02,299.33 L163.94,298.76 L164.87,298.19 L165.79,297.62 L166.72,297.05 L167.64,296.47 L168.56,295.90 L169.49,295.32 L170.41,294.74 L171.33,294.16 L172.26,293.58 L173.18,293.00 L174.10,292.42 L175.03,291.84 L175.95,291.26 L176.87,290.67 L177.80,290.09 L178.72,289.51 L179.65,288.92 L180.57,288.34 L181.49,287.76 L182.42,287.17 L183.34,286.59 L184.26,286.01 L185.19,285.43 L186.11,284.85 L187.03,284.27 L187.96,283.69 L188.88,283.12 L189.80,282.54 L190.73,281.97 L191.65,281.40 L192.58,280.83 L193.50,280.26 L194.42,279.70 L195.35,279.14 L196.27,278.58 L197.19,278.02 L198.12,277.47 L199.04,276.92 L199.96,276.38 L200.89,275.83 L201.81,275.30 L202.73,274.76 L203.66,274.23 L204.58,273.71 L205.51,273.19 L206.43,272.67 L207.35,272.16 L208.28,271.66 L209.20,271.16 L210.12,270.67 L211.05,270.18 L211.97,269.70 L212.89,269.23 L213.82,268.76 L214.74,268.30 L215.66,267.85 L216.59,267.40 L217.51,266.96 L218.43,266.53 L219.36,266.11 L220.28,265.69 L221.21,265.28 L222.13,264.89 L223.05,264.50 L223.98,264.12 L224.90,263.74 L225.82,263.38 L226.75,263.03 L227.67,262.69 L228.59,262.35 L229.52,262.03 L230.44,261.72 L231.36,261.42 L232.29,261.12 L233.21,260.84 L234.14,260.57 L235.06,260.31 L235.98,260.06 L236.91,259.83 L237.83,259.60 L238.75,259.39 L239.68,259.19 L240.60,259.00 L241.52,258.82 L242.45,258.65 L243.37,258.50 L244.29,258.36 L245.22,258.23 L246.14,258.11 L247.07,258.00 L247.99,257.91 L248.91,257.83 L249.84,257.77 L250.76,257.71 L251.68,257.67 L252.61,257.64 L253.53,257.63 L254.45,257.62 L255.38,257.63 L256.30,257.65 L257.22,257.69 L258.15,257.74 L259.07,257.80 L259.99,257.87 L260.92,257.96 L261.84,258.05 L262.77,258.17 L263.69,258.29 L264.61,258.43 L265.54,258.57 L266.46,258.73 L267.38,258.91 L268.31,259.09 L269.23,259.29 L270.15,259.50 L271.08,259.72 L272.00,259.95 L272.92,260.19 L273.85,260.45 L274.77,260.71 L275.70,260.99 L276.62,261.27 L277.54,261.57 L278.47,261.88 L279.39,262.20 L280.31,262.53 L281.24,262.87 L282.16,263.22 L283.08,263.58 L284.01,263.95 L284.93,264.32 L285.85,264.71 L286.78,265.11 L287.70,265.51 L288.63,265.92 L289.55,266.35 L290.47,266.77 L291.40,267.21 L292.32,267.66 L293.24,268.11 L294.17,268.57 L295.09,269.04 L296.01,269.51 L296.94,269.99 L297.86,270.48 L298.78,270.97 L299.71,271.47 L300.63,271.97 L301.56,272.48 L302.48,273.00 L303.40,273.52 L304.33,274.05 L305.25,274.58 L306.17,275.11 L307.10,275.65 L308.02,276.20 L308.94,276.74 L309.87,277.29 L310.79,277.85 L311.71,278.41 L312.64,278.97 L313.56,279.53 L314.48,280.10 L315.41,280.67 L316.33,281.24 L317.26,281.82 L318.18,282.39 L319.10,282.97 L320.03,283.55 L320.95,284.13 L321.87,284.72 L322.80,285.30 L323.72,285.89 L324.64,286.47 L325.57,287.06 L326.49,287.65 L327.41,288.23 L328.34,288.82 L329.26,289.41 L330.19,290.00 L331.11,290.59 L332.03,291.18 L332.96,291.76 L333.88,292.35 L334.80,292.94 L335.73,293.52 L336.65,294.11 L337.57,294.69 L338.50,295.28 L339.42,295.86 L340.34,296.44 L341.27,297.02 L342.19,297.60 L343.12,298.18 L344.04,298.75 L344.96,299.33 L345.89,299.90 L346.81,300.47 L347.73,301.03 L348.66,301.60 L349.58,302.16 L350.50,302.73 L351.43,303.29 L352.35,303.84 L353.27,304.40 L354.20,304.95 L355.12,305.50 L356.05,306.05 L356.97,306.59 L357.89,307.14 L358.82,307.67 L359.74,308.21 L360.66,308.75 L361.59,309.28 L362.51,309.81 L363.43,310.33 L364.36,310.86 L365.28,311.38 L366.20,311.89 L367.13,312.41 L368.05,312.92 L368.97,313.43 L369.90,313.93 L370.82,314.43 L371.75,314.93 L372.67,315.43 L373.59,315.92 L374.52,316.41 L375.44,316.90 L376.36,317.38 L377.29,317.86 L378.21,318.34 L379.13,318.81 L380.06,319.28 L380.98,319.75 L381.90,320.21 L382.83,320.67 L383.75,321.13 L384.68,321.58 L385.60,322.04 L386.52,322.48 L387.45,322.93 L388.37,323.37 L389.29,323.81 L390.22,324.24 L391.14,324.68 L392.06,325.10 L392.99,325.53 L393.91,325.95 L394.83,326.37 L395.76,326.79 L396.68,327.20 L397.61,327.61 L398.53,328.02 L399.45,328.42 L400.38,328.82 L401.30,329.22 L402.22,329.61 L403.15,330.00 L404.07,330.39 L404.99,330.78 L405.92,331.16 L406.84,331.54 L407.76,331.91 L408.69,332.29 L409.61,332.65 L410.54,333.02 L411.46,333.39 L412.38,333.75 L413.31,334.11 L414.23,334.46 L415.15,334.81 L416.08,335.16 L417.00,335.51" stroke="#0000ff"/>
</g>
<g font-size="17px" fill="#000"><text x="47.4" y="391.25" text-anchor="end">0.0</text><text x="47.4" y="332.92" text-anchor="end">0.5</text><text x="47.4" y="274.58" text-anchor="end">1.0</text><text x="47.4" y="216.25" text-anchor="end">1.5</text><text x="47.4" y="157.91" text-anchor="end">2.0</text><text x="47.4" y="99.57" text-anchor="end">2.5</text><text x="47.4" y="41.24" text-anchor="end">3.0</text><text x="58.00" y="411.3" text-anchor="middle">−<tspan dx="1.6">3</tspan></text><text x="116.33" y="411.3" text-anchor="middle">−<tspan dx="1.6">2</tspan></text><text x="174.66" y="411.3" text-anchor="middle">−<tspan dx="1.6">1</tspan></text><text x="233.39" y="411.3" text-anchor="middle">0</text><text x="291.72" y="411.3" text-anchor="middle">1</text><text x="350.05" y="411.3" text-anchor="middle">2</text><text x="408.38" y="411.3" text-anchor="middle">3</text></g>
<g font-size="17.5px" fill="#000">
<text y="14.8" x="191.1 205.7" font-style="italic">vf</text>
<path d="M198.8,16.7L203.7,3.7" stroke="#000" stroke-width="1" fill="none"/>
<text y="14.8" x="225.1 234.0">1,</text>
<text transform="translate(242.6,14.8) scale(1.25,1)" font-style="italic">γ</text>
<text y="17.2" x="251.2" font-style="italic" font-size="12px">i</text>
<text y="14.8" x="266.7">0</text>
<path d="M215.1,8.1h9.15M215.1,11.5h9.15M256.4,8.1h9.15M256.4,11.5h9.15" stroke="#000" stroke-width="0.9" fill="none"/>
</g>
<g font-size="15px"><g fill="#0a9e0a"><text x="76.8" y="57.5">incl.</text><text x="106.5" y="57.5" font-style="italic">h</text><text x="134.3" y="57.5" font-style="italic">ZZ</text><text x="151.3" y="53.5" font-size="9px">*</text></g><path d="M118.80,53.35H129.20M125.70,50.50q1.2,2.1 3.7,2.85q-2.5,0.75 -3.7,2.85" stroke="#0a9e0a" stroke-width="0.95" fill="none" stroke-linecap="round" stroke-linejoin="round"/><g fill="#ff8000"><text x="79.9" y="75">incl.</text><text x="110" y="75" font-style="italic">h</text><text transform="translate(137.4,75) scale(1.25,1)" font-style="italic">γγ</text></g><path d="M121.50,70.85H131.90M128.40,68.00q1.2,2.1 3.7,2.85q-2.5,0.75 -3.7,2.85" stroke="#ff8000" stroke-width="0.95" fill="none" stroke-linecap="round" stroke-linejoin="round"/><g fill="#0000ff" font-style="italic"><text x="85.3" y="92.5">Vh</text><text x="106.2" y="92.5">h</text><text x="133.7" y="92.5">bb</text></g><path d="M117.80,88.35H128.20M124.70,85.50q1.2,2.1 3.7,2.85q-2.5,0.75 -3.7,2.85" stroke="#0000ff" stroke-width="0.95" fill="none" stroke-linecap="round" stroke-linejoin="round"/></g>
<text transform="translate(15,210.0) rotate(-90)" text-anchor="middle" font-size="18.5px" font-style="italic">R</text>
<g fill="#000">
<text x="189.5" y="441.8" font-size="17px" font-style="italic">b</text>
<text x="198.6" y="433.5" font-size="11.5px">(3)</text>
<text x="197.8" y="445.7" font-size="12px" font-style="italic" letter-spacing="0.6">UV</text>
<path d="M216.8,435.3h8.8M216.8,438.6h8.8" stroke="#000" stroke-width="0.9" fill="none"/>
<text x="225.6" y="441.8" font-size="17px" font-style="italic">b</text>
<text x="236.1" y="433.3" font-size="11.5px" letter-spacing="0.55">(<tspan font-style="italic">EM</tspan>)</text>
<text x="235.2" y="445.7" font-size="12px" font-style="italic" letter-spacing="0.6">UV</text>
<path d="M264.1,443.2L267.9,429.3" stroke="#000" stroke-width="1.05" fill="none"/>
<text x="268.6" y="441.8" font-size="17px">2</text>
</g>
</svg>
</body></html>
